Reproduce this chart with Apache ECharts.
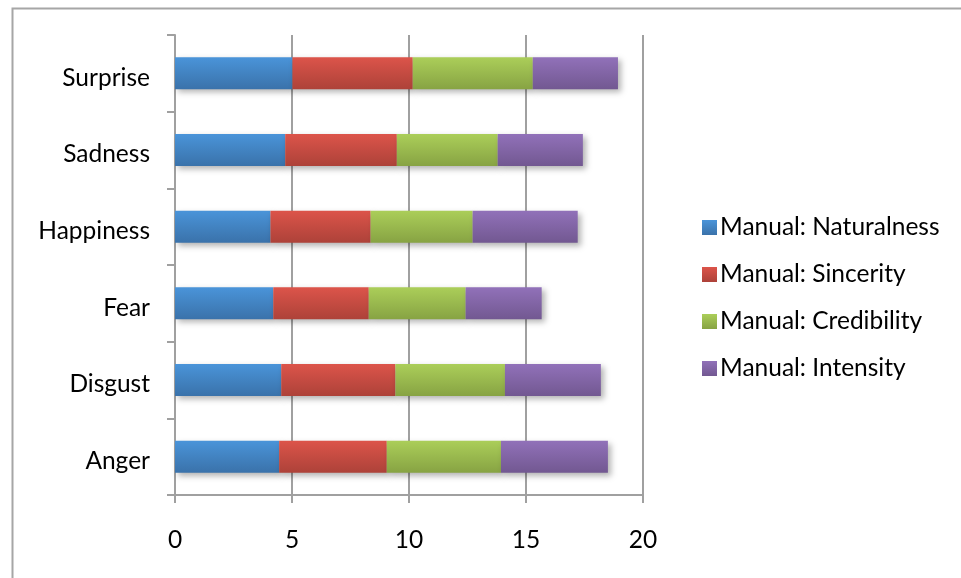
<!DOCTYPE html>
<html>
<head>
<meta charset="utf-8">
<script src="https://cdn.jsdelivr.net/npm/echarts@6/dist/echarts.min.js"></script>
<style>
  html, body { margin: 0; padding: 0; background: #fff; }
  #chart { width: 961px; height: 578px; }
</style>
</head>
<body>
<div id="chart"></div>
<script>
// Emotion categories, listed bottom to top on the vertical axis
const emotions = ['Anger', 'Disgust', 'Fear', 'Happiness', 'Sadness', 'Surprise'];

// Manual ratings per emotion, one array per stacked segment
const naturalness = [4.45, 4.54, 4.20, 4.08, 4.71, 5.02];
const sincerity   = [4.60, 4.88, 4.08, 4.28, 4.77, 5.14];
const credibility = [4.88, 4.68, 4.14, 4.36, 4.31, 5.13];
const intensity   = [4.57, 4.10, 3.25, 4.49, 3.64, 3.64];

const seriesNames = ['Manual: Naturalness', 'Manual: Sincerity', 'Manual: Credibility', 'Manual: Intensity'];
const xTicks = [0, 5, 10, 15, 20];

const FONT = 'Lato, "Open Sans", sans-serif';
const FONT_SIZE = 24.5;

function grad(top, bottom) {
  return new echarts.graphic.LinearGradient(0, 0, 0, 1, [
    { offset: 0, color: top },
    { offset: 1, color: bottom }
  ]);
}

const palette = [
  grad('#4a94d9', '#3a72aa'),
  grad('#dc544a', '#ad4239'),
  grad('#abce59', '#87a343'),
  grad('#9171b9', '#725891')
];

const values = [naturalness, sincerity, credibility, intensity];

const chart = echarts.init(document.getElementById('chart'), null, { renderer: 'canvas' });

chart.setOption({
  animation: false,
  backgroundColor: '#ffffff',
  textStyle: { fontFamily: FONT },
  graphic: [{
    type: 'rect',
    left: 10, top: 6,
    shape: { width: 1000, height: 640 },
    style: { fill: 'none', stroke: '#a6a6a6', lineWidth: 2 },
    silent: true,
    z: -1
  }],
  grid: { left: 175, right: 318, top: 35, bottom: 83, containLabel: false },
  legend: {
    orient: 'vertical',
    left: 697,
    top: 210,
    itemWidth: 15,
    itemHeight: 15,
    itemGap: 22,
    icon: 'rect',
    textStyle: { fontSize: FONT_SIZE, color: '#000', fontFamily: FONT, padding: [0, 0, 0, -2] },
    data: seriesNames
  },
  xAxis: {
    type: 'value',
    min: xTicks[0],
    max: xTicks[xTicks.length - 1],
    interval: 5,
    axisLine: { show: true, lineStyle: { color: '#a0a0a0', width: 2 } },
    axisTick: { show: true, length: 8, lineStyle: { color: '#a0a0a0', width: 2 } },
    axisLabel: { fontSize: FONT_SIZE, color: '#000', margin: 33, fontFamily: FONT },
    splitLine: { show: true, lineStyle: { color: '#a0a0a0', width: 2 } }
  },
  yAxis: {
    type: 'category',
    data: emotions,
    axisLine: { show: true, lineStyle: { color: '#a0a0a0', width: 2 } },
    axisTick: { show: true, length: 8, lineStyle: { color: '#a0a0a0', width: 2 } },
    axisLabel: {
      color: '#000',
      margin: 25,
      formatter: v => '{t|' + v + '}',
      rich: { t: { fontSize: FONT_SIZE, fontFamily: FONT, color: '#000', padding: [9, 0, 0, 0] } }
    },
    splitLine: { show: false }
  },
  series: seriesNames.map((name, i) => ({
    name: name,
    type: 'bar',
    stack: 'manual',
    data: values[i],
    barWidth: 32,
    itemStyle: {
      color: palette[i],
      shadowColor: 'rgba(0,0,0,0.3)',
      shadowBlur: 6,
      shadowOffsetX: 3,
      shadowOffsetY: 3
    }
  }))
});
</script>
</body>
</html>
